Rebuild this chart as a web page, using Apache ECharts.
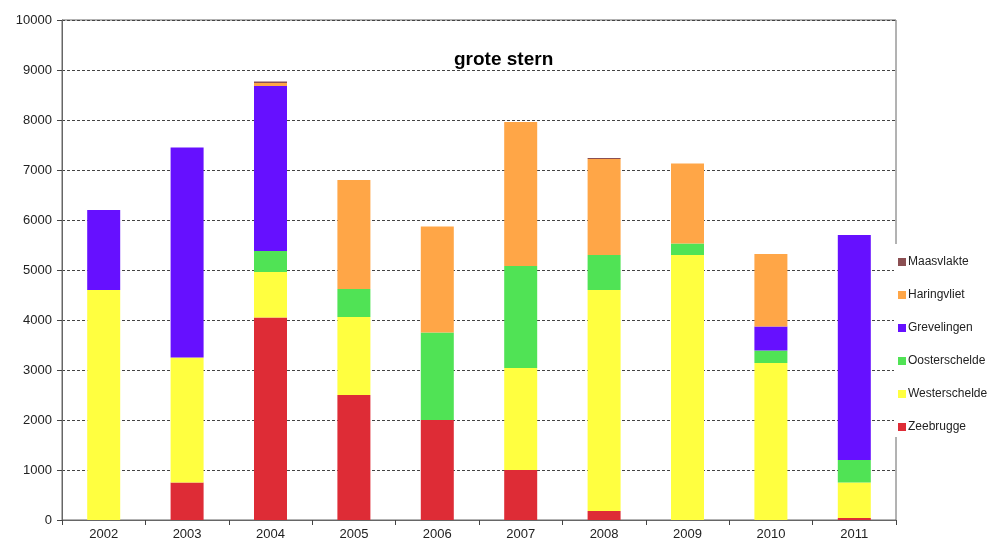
<!DOCTYPE html>
<html><head><meta charset="utf-8">
<script src="https://cdn.jsdelivr.net/npm/echarts@6/dist/echarts.min.js"></script>
<style>html,body{margin:0;padding:0;background:#fff}#c{width:987px;height:540px}</style>
</head><body><div id="c"></div>
<script>
const years = ['2002','2003','2004','2005','2006','2007','2008','2009','2010','2011'];
const zeebrugge     = [0, 750, 4050, 2500, 2000, 1000, 180, 0, 0, 40];
const westerschelde = [4600, 2500, 910, 1560, 0, 2040, 4420, 5300, 3140, 710];
const oosterschelde = [0, 0, 420, 560, 1750, 2040, 700, 230, 250, 450];
const grevelingen   = [1600, 4200, 3300, 0, 0, 0, 0, 0, 480, 4500];
const haringvliet   = [0, 0, 60, 2180, 2120, 2880, 1920, 1600, 1450, 0];
const maasvlakte    = [0, 0, 30, 0, 0, 0, 20, 0, 0, 0];
const yTicks = [0,1000,2000,3000,4000,5000,6000,7000,8000,9000,10000];

const seriesDefs = [
  ['Zeebrugge', zeebrugge, '#DE2C36'],
  ['Westerschelde', westerschelde, '#FFFF40'],
  ['Oosterschelde', oosterschelde, '#50E355'],
  ['Grevelingen', grevelingen, '#6610FF'],
  ['Haringvliet', haringvliet, '#FFA647'],
  ['Maasvlakte', maasvlakte, '#8B4F52']
];
const chart = echarts.init(document.getElementById('c'), null, {renderer:'canvas'});
chart.setOption({
  animation:false,
  title:{text:'grote stern', left:449, top:45, textStyle:{fontFamily:'Liberation Sans, Arial', fontWeight:'bold', fontSize:19, color:'#000'}},
  grid:{left:62, right:91, top:20, bottom:20, containLabel:false, outerBoundsMode:'none', show:true, borderColor:'#666', borderWidth:1, backgroundColor:'transparent'},
  legend:{
    orient:'vertical', left:894, top:244, backgroundColor:'#fff', padding:[11,0,3,4],
    itemWidth:8, itemHeight:8, itemGap:19, icon:'rect',
    data:['Maasvlakte','Haringvliet','Grevelingen','Oosterschelde','Westerschelde','Zeebrugge'],
    textStyle:{fontFamily:'Liberation Sans, Arial', fontSize:12, lineHeight:14, color:'#222', padding:[0,0,0,-3]}
  },
  xAxis:{type:'category', data:years, boundaryGap:true,
    axisLine:{lineStyle:{color:'#666'}},
    axisTick:{show:true, alignWithLabel:false, length:5, lineStyle:{color:'#444'}},
    axisLabel:{fontFamily:'Liberation Sans, Arial', fontSize:13, color:'#222', margin:8}},
  yAxis:{type:'value', min:0, max:10000, interval:1000,
    axisLine:{show:true, lineStyle:{color:'#666'}},
    axisTick:{show:true, length:5, lineStyle:{color:'#444'}},
    axisLabel:{fontFamily:'Liberation Sans, Arial', fontSize:13, color:'#222', margin:10,
      formatter:v=>yTicks.includes(v)?String(v):''},
    splitLine:{show:true, lineStyle:{color:'#444', type:[3,2], width:1}}},
  series: seriesDefs.map(([n,d,c])=>({name:n, type:'bar', stack:'s', data:d, barWidth:33,
    itemStyle:{color:c}}))
});
</script></body></html>
